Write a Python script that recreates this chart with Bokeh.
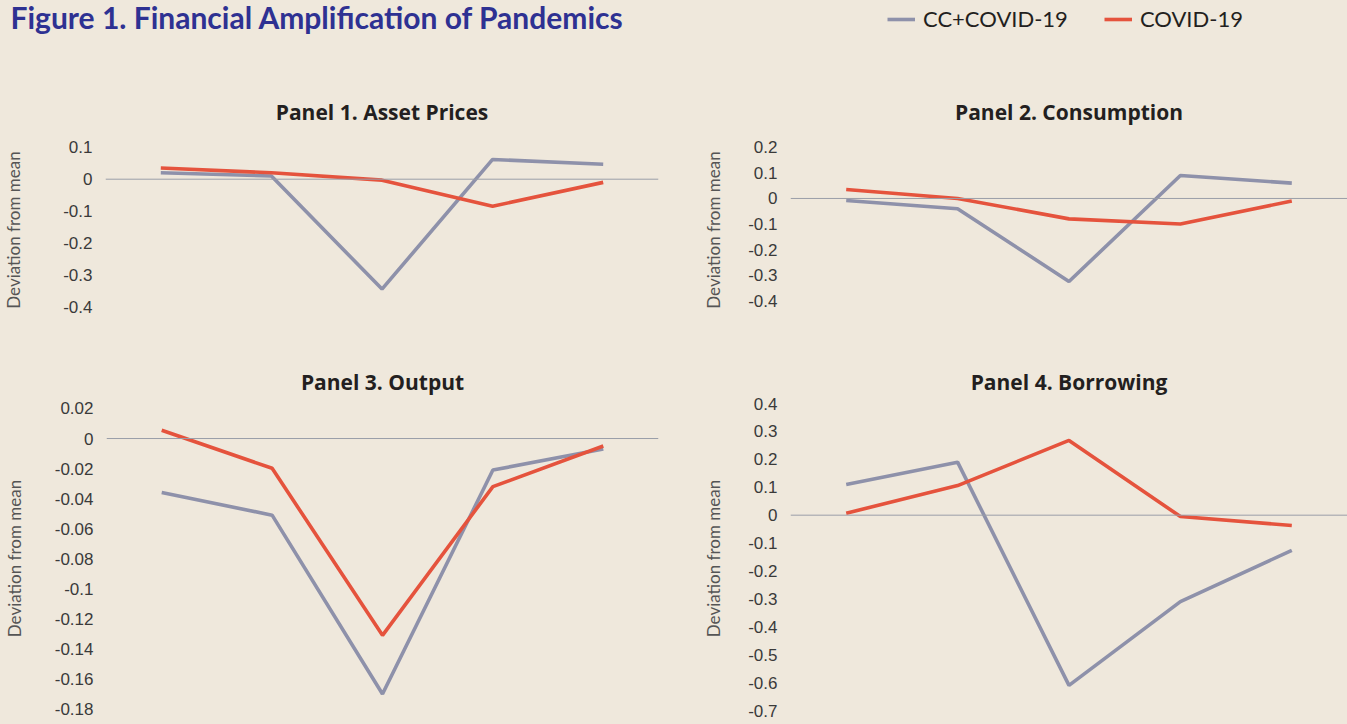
from bokeh.plotting import figure
from bokeh.layouts import column, row
from bokeh.models import Range1d, FixedTicker, Span, Label, Legend, LegendItem, ColumnDataSource
from bokeh.embed import file_html
from bokeh.resources import INLINE

periods = [1, 2, 3, 4, 5]

asset_cc = [0.02, 0.01, -0.345, 0.062, 0.047]
asset_cv = [0.035, 0.02, -0.003, -0.085, -0.01]

cons_cc = [-0.008, -0.04, -0.325, 0.09, 0.06]
cons_cv = [0.035, 0.0, -0.08, -0.1, -0.01]

out_cc = [-0.036, -0.051, -0.170, -0.021, -0.007]
out_cv = [0.0055, -0.0198, -0.131, -0.032, -0.005]

borr_cc = [0.11, 0.19, -0.61, -0.31, -0.126]
borr_cv = [0.007, 0.106, 0.268, -0.005, -0.037]

ticks1 = [0.1, 0, -0.1, -0.2, -0.3, -0.4]
ticks2 = [0.2, 0.1, 0, -0.1, -0.2, -0.3, -0.4]
ticks3 = [0.02, 0, -0.02, -0.04, -0.06, -0.08, -0.1, -0.12, -0.14, -0.16, -0.18]
ticks4 = [0.4, 0.3, 0.2, 0.1, 0, -0.1, -0.2, -0.3, -0.4, -0.5, -0.6, -0.7]

titles = ["Panel 1. Asset Prices", "Panel 2. Consumption", "Panel 3. Output", "Panel 4. Borrowing"]
series_names = ["CC+COVID-19", "COVID-19"]

BG = "#efe8dc"
GRAY = "#8e91aa"
RED = "#e5533d"
TICK_FONT = "Liberation Sans Narrow, Liberation Sans, sans-serif"


def fmt_labels(ticks):
    return {t: ("%g" % t) for t in ticks}


def panel(title, cc, cv, ticks, yr, w, h, bl, br, bt, bb, title_standoff, label_standoff):
    p = figure(width=w, height=h, output_backend="svg", toolbar_location=None,
               x_range=Range1d(0.5, 5.5), y_range=Range1d(*yr),
               min_border_left=bl, min_border_right=br, min_border_top=bt, min_border_bottom=bb,
               background_fill_alpha=0, border_fill_color=BG, outline_line_color=None)
    p.title.text = title
    p.title.align = "center"
    p.title.standoff = title_standoff
    p.title.text_font = "Open Sans"
    p.title.text_font_style = "bold"
    p.title.text_font_size = "21px"
    p.title.text_color = "#231f20"
    p.grid.visible = False
    p.xaxis.visible = False
    ya = p.yaxis[0]
    ya.ticker = FixedTicker(ticks=ticks)
    ya.major_label_overrides = fmt_labels(ticks)
    ya.axis_line_color = None
    ya.major_tick_line_color = None
    ya.minor_tick_line_color = None
    ya.major_label_text_font = TICK_FONT
    ya.major_label_text_font_size = "17px"
    ya.major_label_text_color = "#3a3a3a"
    ya.major_label_standoff = 7
    ya.axis_label = "Deviation from mean"
    ya.axis_label_text_font = "Lato"
    ya.axis_label_text_font_style = "normal"
    ya.axis_label_text_font_size = "17px"
    ya.axis_label_text_color = "#555555"
    ya.axis_label_standoff = label_standoff
    p.add_layout(Span(location=0, dimension="width", line_color="#9a9ea8", line_width=1))
    src = ColumnDataSource(dict(x=periods, cc=cc, cv=cv))
    p.line("x", "cc", source=src, line_color=GRAY, line_width=3.6)
    p.line("x", "cv", source=src, line_color=RED, line_width=3.6)
    return p


LW, RW = 688, 659
HH, TH, BH = 91, 259, 374

p1 = panel(titles[0], asset_cc, asset_cv, ticks1, (-0.475, 0.156), LW, TH, 105, 30, 37, 20, 8, 36)
p2 = panel(titles[1], cons_cc, cons_cv, ticks2, (-0.517, 0.27), RW, TH, 102, 0, 37, 20, 8, 21)
p3 = panel(titles[2], out_cc, out_cv, ticks3, (-0.185, 0.0253), LW, BH, 105, 30, 50, 8, 10, 27)
p4 = panel(titles[3], borr_cc, borr_cv, ticks4, (-0.7215, 0.411), RW, BH, 102, 0, 50, 8, 10, 21)

header = figure(width=LW + RW, height=HH, output_backend="svg", toolbar_location=None,
                x_range=Range1d(0, 1), y_range=Range1d(0, 1), min_border=0,
                background_fill_alpha=0, border_fill_color=BG, outline_line_color=None)
header.axis.visible = False
header.grid.visible = False
header.add_layout(Label(x=10, y=75, x_units="screen", y_units="screen",
                        text="Figure 1. Financial Amplification of Pandemics",
                        text_font="Lato", text_font_style="bold", text_font_size="30px",
                        text_color="#2e3192", text_baseline="alphabetic"))
# legend proxies (outside the visible header range)
r_cc = header.line(x=[2, 3], y=[2, 2], line_color=GRAY, line_width=3.6)
r_cv = header.line(x=[2, 3], y=[2, 2], line_color=RED, line_width=3.6)
leg = Legend(items=[LegendItem(label=series_names[0], renderers=[r_cc]),
                    LegendItem(label=series_names[1], renderers=[r_cv])],
             orientation="horizontal", location=(887, 59),
             label_text_font="Lato", label_text_font_size="22px", label_text_color="#231f20",
             glyph_width=28, glyph_height=20, label_standoff=8, spacing=36,
             padding=0, margin=0, border_line_alpha=0, background_fill_alpha=0)
header.add_layout(leg)

layout = column(header, row(p1, p2, styles={"background-color": BG}),
                row(p3, p4, styles={"background-color": BG}),
                styles={"background-color": BG})

with open("out.html", "w") as f:
    f.write(file_html(layout, INLINE))
